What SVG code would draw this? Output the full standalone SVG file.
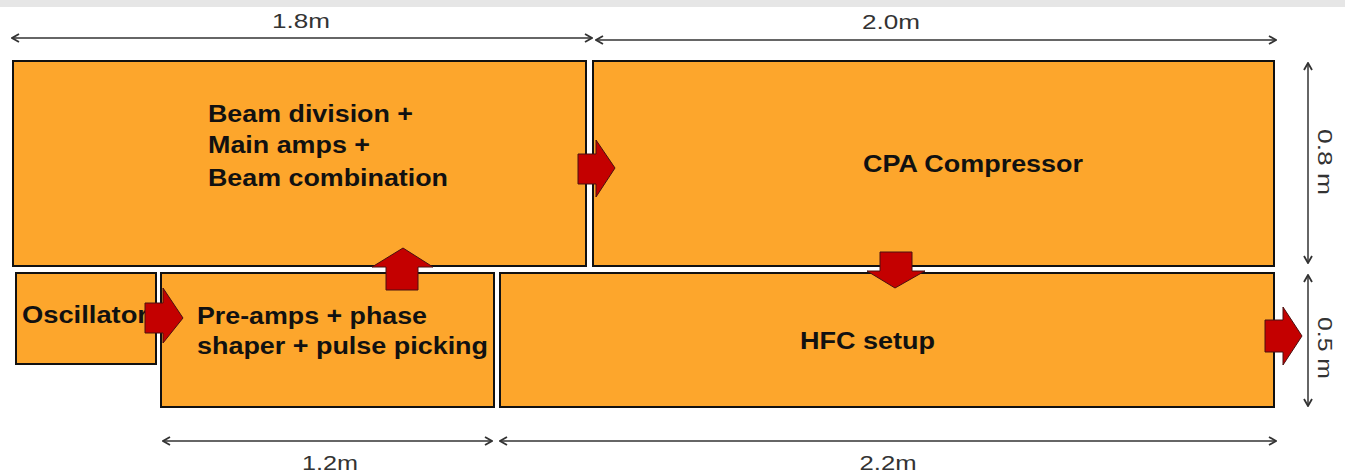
<svg xmlns="http://www.w3.org/2000/svg" width="1345" height="475" viewBox="0 0 1345 475">
<defs>
<style>
.box{fill:#fda62c;stroke:#111;stroke-width:2}
.lbl{font-family:"Liberation Sans",Arial,sans-serif;font-weight:bold;font-size:23px;fill:#111}
.dim{font-family:"Liberation Sans",Arial,sans-serif;font-size:20px;fill:#333}
.dl{stroke:#666;stroke-width:2;fill:none}
.blk{fill:#c40000;stroke:#4a1010;stroke-width:1}
</style>
<marker id="oa" viewBox="0 0 10 10" refX="9" refY="5" markerWidth="10" markerHeight="10" markerUnits="userSpaceOnUse" orient="auto-start-reverse">
<path d="M2,1 L9,5 L2,9" fill="none" stroke="#333" stroke-width="1.8"/>
</marker>
</defs>
<rect x="0" y="0" width="1345" height="475" fill="#fff"/>
<rect x="0" y="0" width="1345" height="7" fill="#e6e6e6"/>

<g id="beam">
<rect class="box" x="13" y="61" width="573" height="205"/>
<text class="lbl" x="208" y="122" textLength="205" lengthAdjust="spacingAndGlyphs">Beam division +</text>
<text class="lbl" x="208" y="153" textLength="162" lengthAdjust="spacingAndGlyphs">Main amps +</text>
<text class="lbl" x="208" y="186" textLength="240" lengthAdjust="spacingAndGlyphs">Beam combination</text>
</g>
<g id="cpa">
<rect class="box" x="593" y="61" width="681" height="205"/>
<text class="lbl" x="863" y="172" textLength="220" lengthAdjust="spacingAndGlyphs">CPA Compressor</text>
</g>
<g id="osc">
<rect class="box" x="16" y="273" width="140" height="91"/>
<text class="lbl" x="22" y="323" textLength="126" lengthAdjust="spacingAndGlyphs">Oscillator</text>
</g>
<g id="pre">
<rect class="box" x="161" y="273" width="333" height="134"/>
<text class="lbl" x="197" y="324" textLength="230" lengthAdjust="spacingAndGlyphs">Pre-amps + phase</text>
<text class="lbl" x="197" y="354" textLength="291" lengthAdjust="spacingAndGlyphs">shaper + pulse picking</text>
</g>
<g id="hfc">
<rect class="box" x="500" y="273" width="774" height="134"/>
<text class="lbl" x="800" y="349" textLength="135" lengthAdjust="spacingAndGlyphs">HFC setup</text>
</g>

<g id="connectors">
<path class="blk" d="M578,154 H596 V140 L615,168 L596,197 V184 H578 Z"/>
<path class="blk" d="M386,290 V267 H372 L403,248 L433,267 H418 V290 Z"/>
<path class="blk" d="M880,252 H912 V271 H925 L895,288 L867,271 H880 Z"/>
<path class="blk" d="M145,303 H163 V288 L183,318 L163,343 V333 H145 Z"/>
<path class="blk" d="M1265,320 H1283 V307 L1302,336 L1283,365 V352 H1265 Z"/>
</g>

<g id="dimensions">
<line class="dl" x1="12" y1="38" x2="592" y2="38" marker-start="url(#oa)" marker-end="url(#oa)"/>
<text class="dim" x="301" y="28" text-anchor="middle" textLength="58" lengthAdjust="spacingAndGlyphs">1.8m</text>
<line class="dl" x1="596" y1="40" x2="1276" y2="40" marker-start="url(#oa)" marker-end="url(#oa)"/>
<text class="dim" x="891" y="29" text-anchor="middle" textLength="58" lengthAdjust="spacingAndGlyphs">2.0m</text>
<line class="dl" x1="1308" y1="63" x2="1308" y2="263" marker-start="url(#oa)" marker-end="url(#oa)"/>
<text class="dim" transform="translate(1318,162) rotate(90)" text-anchor="middle" textLength="66" lengthAdjust="spacingAndGlyphs">0.8 m</text>
<line class="dl" x1="1308" y1="275" x2="1308" y2="406" marker-start="url(#oa)" marker-end="url(#oa)"/>
<text class="dim" transform="translate(1318,348) rotate(90)" text-anchor="middle" textLength="62" lengthAdjust="spacingAndGlyphs">0.5 m</text>
<line class="dl" x1="163" y1="441" x2="492" y2="441" marker-start="url(#oa)" marker-end="url(#oa)"/>
<text class="dim" x="330" y="470" text-anchor="middle" textLength="56" lengthAdjust="spacingAndGlyphs">1.2m</text>
<line class="dl" x1="500" y1="441" x2="1276" y2="441" marker-start="url(#oa)" marker-end="url(#oa)"/>
<text class="dim" x="888" y="470" text-anchor="middle" textLength="57" lengthAdjust="spacingAndGlyphs">2.2m</text>
</g>
</svg>
